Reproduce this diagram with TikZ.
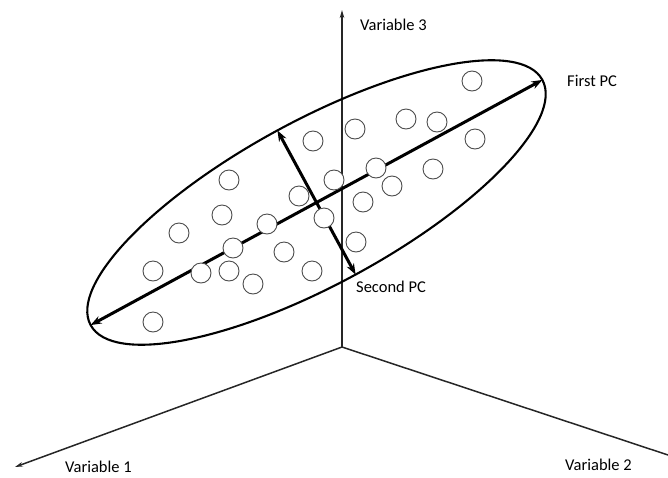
\documentclass[tikz,border=0pt]{standalone}
\usepackage{fontspec}
\setmainfont{Carlito}
\usetikzlibrary{arrows.meta}

\begin{document}
\begin{tikzpicture}[
  x=1pt, y=-1pt,
  font=\fontsize{16.5}{19}\selectfont,
  axis/.style={line width=1.5pt, draw=black!85},
  axarr/.style={axis, -{Stealth[length=8pt, width=4.5pt]}},
  pc/.style={line width=3pt, {Stealth[length=11pt, width=8pt]}-{Stealth[length=11pt, width=8pt]}},
  hull/.style={line width=2.1pt},
  obs/.style={circle, draw=black!70, fill=white, line width=0.9pt, minimum size=20pt, inner sep=0pt},
  lbl/.style={anchor=west, inner sep=0pt}]
\useasboundingbox (0,0) rectangle (668,477);
% axes
\coordinate (O)  at (342,347);
\coordinate (v1) at (15,467);
\coordinate (v2) at (668,455);
\coordinate (v3) at (342,10);
\draw[axarr] (O) -- (v1);
\draw[axis] (O) -- (v2);
\draw[axarr] (O) -- (v3);
\node[lbl] (lab1) at (65,467) {Variable 1};
\node[lbl] (lab2) at (565,465) {Variable 2};
\node[lbl] (lab3) at (360,25) {Variable 3};
% ellipse and principal components
\coordinate (c)   at (316.5,202.5);
\coordinate (pc1a) at (90.6,325.1);
\coordinate (pc1b) at (542.4,79.9);
\coordinate (pc2a) at (277.4,130.4);
\coordinate (pc2b) at (355.6,274.6);
\draw[hull, rotate around={28.5:(c)}] (c) ellipse [x radius=257, y radius=82];
\draw[pc] (pc1a) -- (pc1b);
\draw[pc] (pc2a) -- (pc2b);
\node[lbl] (first)  at (567,81) {First PC};
\node[lbl] (second) at (356,287) {Second PC};
% observations
\foreach \x/\y [count=\i] in {472/81, 406/119, 437/122, 355/129, 313/141, 475/139,
    229/180, 376/168, 334/180, 299/196, 392/186, 433/169, 363/202, 222/215,
    179/233, 267/224, 324/218, 356/242, 233/248, 284/252, 153/271, 201/273,
    229/271, 312/271, 253/284, 153/322}
  \node[obs] (p\i) at (\x,\y) {};
\end{tikzpicture}
\end{document}
